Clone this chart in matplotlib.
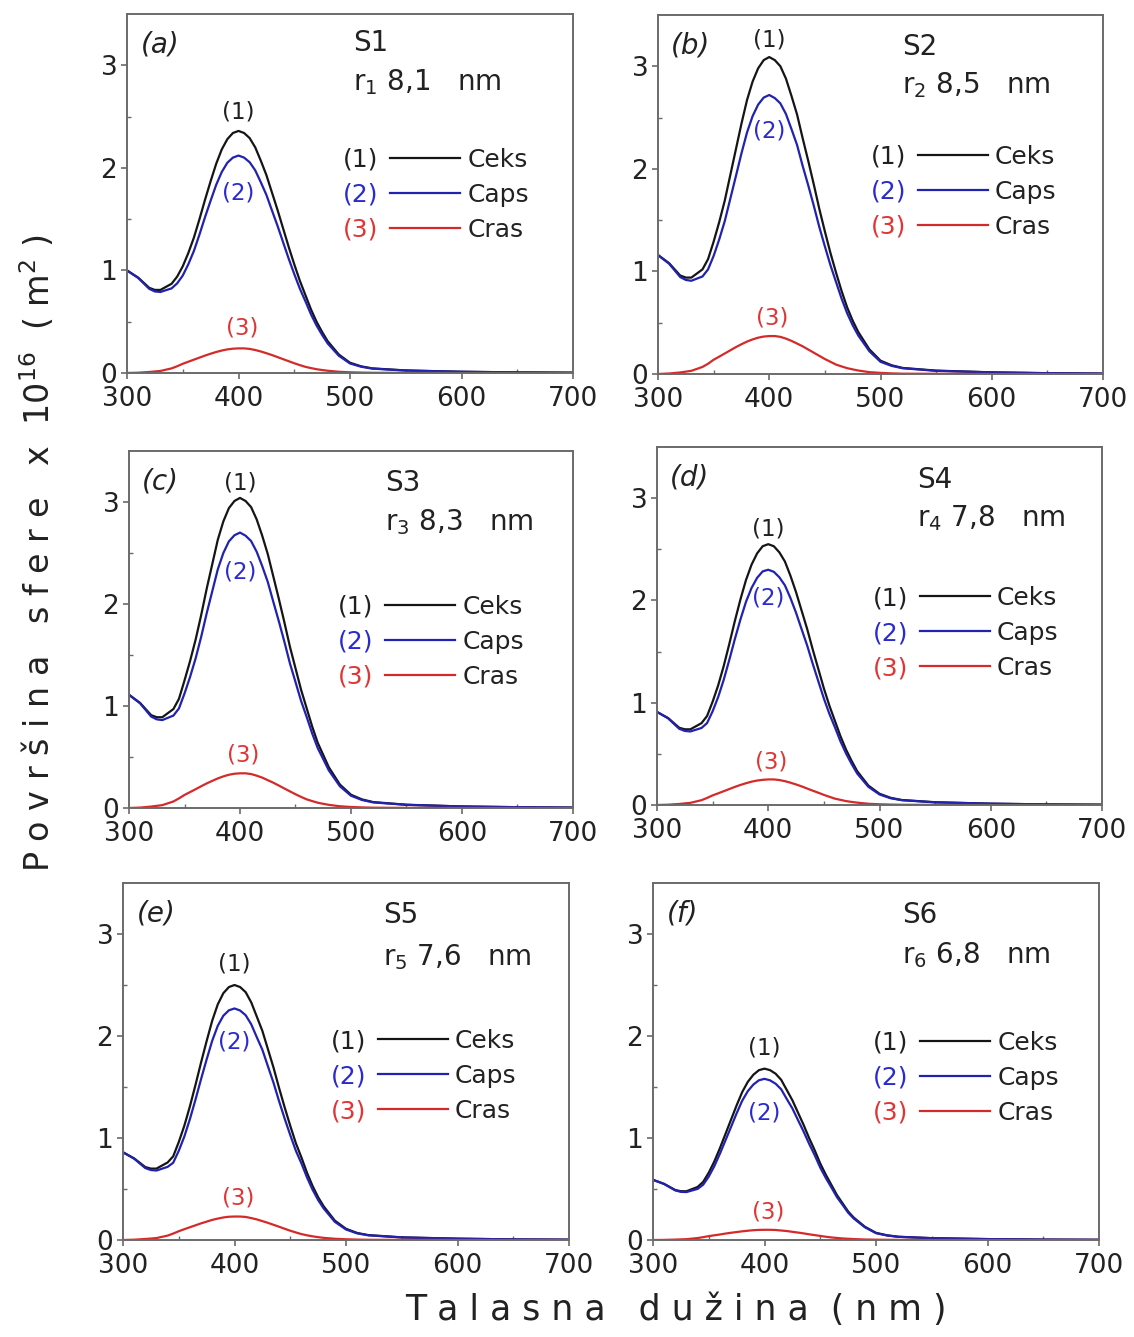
import matplotlib.pyplot as plt
import numpy as np

plt.rcParams['font.family'] = ['DejaVu Sans']
plt.rcParams['mathtext.fontset'] = 'dejavusans'

W, H = 1134, 1337

# wavelength grid (nm)
wl = [300, 310, 320, 325, 330,
      340, 345, 350, 355, 360, 365, 370, 375, 380, 385, 390, 395, 400, 405, 410, 415, 420, 425,
      430, 435, 440, 445, 450, 455, 460, 465, 470, 475, 480,
      490, 500, 510, 520, 550, 600, 650, 700]

# S1
ceks_s1 = [1.00, 0.93, 0.83, 0.81, 0.81,
           0.87, 0.94, 1.04, 1.17, 1.32, 1.50, 1.69, 1.87, 2.04, 2.18, 2.28, 2.34, 2.36, 2.34, 2.29, 2.20, 2.07, 1.93,
           1.76, 1.59, 1.41, 1.23, 1.06, 0.90, 0.76, 0.62, 0.50, 0.40, 0.31,
           0.18, 0.10, 0.065, 0.045, 0.025, 0.012, 0.006, 0.003]
caps_s1 = [1.00, 0.927, 0.82, 0.795, 0.79,
           0.825, 0.874, 0.95, 1.06, 1.19, 1.35, 1.52, 1.68, 1.835, 1.96, 2.05, 2.10, 2.12, 2.10, 2.055, 1.976, 1.86, 1.737,
           1.585, 1.435, 1.275, 1.115, 0.965, 0.823, 0.70, 0.572, 0.463, 0.371, 0.288,
           0.168, 0.093, 0.061, 0.043, 0.024, 0.012, 0.006, 0.003]
cras_s1 = [0.0, 0.003, 0.01, 0.015, 0.02,
           0.045, 0.066, 0.09, 0.11, 0.13, 0.15, 0.17, 0.188, 0.205, 0.219, 0.23, 0.237, 0.24, 0.24, 0.235, 0.224, 0.21, 0.193,
           0.175, 0.155, 0.135, 0.115, 0.095, 0.077, 0.06, 0.048, 0.037, 0.029, 0.022,
           0.012, 0.007, 0.004, 0.002, 0.001, 0.0, 0.0, 0.0]
# S2
ceks_s2 = [1.16, 1.08, 0.96, 0.94, 0.94,
           1.02, 1.12, 1.29, 1.48, 1.69, 1.94, 2.19, 2.44, 2.67, 2.85, 2.98, 3.06, 3.09, 3.06, 3.00, 2.88, 2.71, 2.53,
           2.30, 2.08, 1.85, 1.61, 1.39, 1.18, 0.99, 0.81, 0.65, 0.52, 0.41,
           0.24, 0.13, 0.085, 0.059, 0.033, 0.016, 0.008, 0.004]
caps_s2 = [1.16, 1.075, 0.945, 0.917, 0.909,
           0.951, 1.02, 1.151, 1.311, 1.49, 1.709, 1.928, 2.15, 2.354, 2.513, 2.626, 2.695, 2.72, 2.69, 2.638, 2.535, 2.387, 2.233,
           2.03, 1.841, 1.642, 1.433, 1.244, 1.061, 0.898, 0.736, 0.593, 0.475, 0.376,
           0.222, 0.119, 0.079, 0.056, 0.031, 0.016, 0.008, 0.004]
cras_s2 = [0.0, 0.005, 0.015, 0.023, 0.031,
           0.069, 0.10, 0.139, 0.169, 0.20, 0.231, 0.262, 0.29, 0.316, 0.337, 0.354, 0.365, 0.37, 0.37, 0.362, 0.345, 0.323, 0.297,
           0.27, 0.239, 0.208, 0.177, 0.146, 0.119, 0.092, 0.074, 0.057, 0.045, 0.034,
           0.018, 0.011, 0.006, 0.003, 0.002, 0.0, 0.0, 0.0]
# S3
ceks_s3 = [1.11, 1.03, 0.91, 0.89, 0.89,
           0.97, 1.07, 1.25, 1.44, 1.65, 1.89, 2.15, 2.39, 2.63, 2.81, 2.94, 3.01, 3.04, 3.01, 2.95, 2.83, 2.67, 2.49,
           2.27, 2.05, 1.82, 1.58, 1.37, 1.16, 0.98, 0.80, 0.64, 0.52, 0.40,
           0.23, 0.13, 0.084, 0.058, 0.032, 0.015, 0.008, 0.004]
caps_s3 = [1.11, 1.026, 0.896, 0.869, 0.862,
           0.906, 0.976, 1.122, 1.284, 1.466, 1.677, 1.909, 2.124, 2.34, 2.50, 2.614, 2.674, 2.70, 2.67, 2.617, 2.513, 2.372, 2.217,
           2.022, 1.83, 1.629, 1.417, 1.235, 1.051, 0.895, 0.732, 0.588, 0.479, 0.369,
           0.213, 0.12, 0.078, 0.055, 0.031, 0.015, 0.008, 0.004]
cras_s3 = [0.0, 0.004, 0.014, 0.021, 0.028,
           0.064, 0.094, 0.128, 0.156, 0.184, 0.213, 0.241, 0.266, 0.29, 0.31, 0.326, 0.336, 0.34, 0.34, 0.333, 0.317, 0.298, 0.273,
           0.248, 0.22, 0.191, 0.163, 0.135, 0.109, 0.085, 0.068, 0.052, 0.041, 0.031,
           0.017, 0.01, 0.006, 0.003, 0.001, 0.0, 0.0, 0.0]
# S4
ceks_s4 = [0.91, 0.85, 0.755, 0.74, 0.74,
           0.80, 0.87, 1.01, 1.17, 1.36, 1.575, 1.80, 2.01, 2.20, 2.35, 2.46, 2.53, 2.55, 2.53, 2.47, 2.38, 2.24, 2.08,
           1.90, 1.72, 1.52, 1.33, 1.14, 0.97, 0.82, 0.67, 0.54, 0.43, 0.33,
           0.19, 0.11, 0.07, 0.049, 0.027, 0.013, 0.006, 0.003]
caps_s4 = [0.91, 0.847, 0.745, 0.724, 0.719,
           0.753, 0.801, 0.916, 1.056, 1.225, 1.419, 1.623, 1.814, 1.987, 2.122, 2.221, 2.284, 2.30, 2.28, 2.226, 2.147, 2.022, 1.879,
           1.718, 1.559, 1.38, 1.21, 1.041, 0.89, 0.758, 0.62, 0.502, 0.40, 0.307,
           0.178, 0.103, 0.066, 0.047, 0.026, 0.013, 0.006, 0.003]
cras_s4 = [0.0, 0.003, 0.01, 0.016, 0.021,
           0.047, 0.069, 0.094, 0.114, 0.135, 0.156, 0.177, 0.196, 0.213, 0.228, 0.239, 0.246, 0.25, 0.25, 0.244, 0.233, 0.218, 0.201,
           0.182, 0.161, 0.14, 0.12, 0.099, 0.08, 0.062, 0.05, 0.038, 0.03, 0.023,
           0.012, 0.007, 0.004, 0.002, 0.001, 0.0, 0.0, 0.0]
# S5
ceks_s5 = [0.86, 0.80, 0.715, 0.70, 0.70,
           0.76, 0.82, 0.96, 1.12, 1.31, 1.52, 1.74, 1.95, 2.15, 2.31, 2.42, 2.48, 2.50, 2.48, 2.43, 2.33, 2.19, 2.05,
           1.87, 1.69, 1.49, 1.30, 1.12, 0.95, 0.81, 0.66, 0.53, 0.42, 0.33,
           0.19, 0.11, 0.069, 0.048, 0.026, 0.013, 0.006, 0.003]
caps_s5 = [0.86, 0.797, 0.705, 0.686, 0.681,
           0.717, 0.757, 0.874, 1.014, 1.185, 1.376, 1.577, 1.77, 1.953, 2.10, 2.199, 2.252, 2.27, 2.25, 2.204, 2.115, 1.988, 1.865,
           1.702, 1.541, 1.36, 1.19, 1.029, 0.876, 0.752, 0.614, 0.494, 0.392, 0.309,
           0.178, 0.103, 0.065, 0.046, 0.025, 0.013, 0.006, 0.003]
cras_s5 = [0.0, 0.003, 0.01, 0.014, 0.019,
           0.043, 0.063, 0.086, 0.106, 0.125, 0.144, 0.163, 0.18, 0.197, 0.21, 0.221, 0.228, 0.23, 0.23, 0.226, 0.215, 0.202, 0.185,
           0.168, 0.149, 0.13, 0.11, 0.091, 0.074, 0.058, 0.046, 0.036, 0.028, 0.021,
           0.012, 0.007, 0.004, 0.002, 0.001, 0.0, 0.0, 0.0]
# S6
ceks_s6 = [0.59, 0.55, 0.49, 0.478, 0.478,
           0.52, 0.57, 0.66, 0.77, 0.90, 1.04, 1.18, 1.32, 1.45, 1.55, 1.62, 1.665, 1.68, 1.665, 1.63, 1.57, 1.47, 1.37,
           1.25, 1.13, 1.00, 0.88, 0.75, 0.64, 0.54, 0.44, 0.36, 0.28, 0.22,
           0.13, 0.07, 0.046, 0.032, 0.018, 0.009, 0.004, 0.002]
caps_s6 = [0.59, 0.549, 0.486, 0.472, 0.47,
           0.501, 0.542, 0.622, 0.724, 0.846, 0.977, 1.109, 1.242, 1.365, 1.459, 1.524, 1.566, 1.58, 1.565, 1.532, 1.477, 1.382, 1.29,
           1.177, 1.065, 0.944, 0.832, 0.71, 0.608, 0.515, 0.42, 0.345, 0.268, 0.211,
           0.125, 0.067, 0.044, 0.031, 0.018, 0.009, 0.004, 0.002]
cras_s6 = [0.0, 0.001, 0.004, 0.006, 0.008,
           0.019, 0.028, 0.038, 0.046, 0.054, 0.063, 0.071, 0.078, 0.085, 0.091, 0.096, 0.099, 0.10, 0.10, 0.098, 0.093, 0.088, 0.08,
           0.073, 0.065, 0.056, 0.048, 0.04, 0.032, 0.025, 0.02, 0.015, 0.012, 0.009,
           0.005, 0.003, 0.002, 0.001, 0.0, 0.0, 0.0, 0.0]

ceks_all = [ceks_s1, ceks_s2, ceks_s3, ceks_s4, ceks_s5, ceks_s6]
caps_all = [caps_s1, caps_s2, caps_s3, caps_s4, caps_s5, caps_s6]
cras_all = [cras_s1, cras_s2, cras_s3, cras_s4, cras_s5, cras_s6]

panel_tags = ['(a)', '(b)', '(c)', '(d)', '(e)', '(f)']
sample_names = ['S1', 'S2', 'S3', 'S4', 'S5', 'S6']
radii = ['8,1', '8,5', '8,3', '7,8', '7,6', '6,8']
series_names = ['Ceks', 'Caps', 'Cras']

# y of the (1) (2) (3) curve labels
lab1_y = [2.54, 3.26, 3.19, 2.70, 2.71, 1.88]
lab2_y = [1.75, 2.37, 2.31, 2.02, 1.94, 1.25]
lab3_y = [0.44, 0.55, 0.52, 0.42, 0.41, 0.27]

# panel boxes in pixels: left, top, right, bottom
boxes = [(127, 14, 573, 373), (658, 15, 1103, 374),
         (129, 451, 573, 808), (657, 447, 1102, 805),
         (123, 883, 569, 1240), (653, 883, 1099, 1240)]
# text anchors in axes fractions
s_x = [0.507, 0.548, 0.577, 0.584, 0.583, 0.558]
s_y = [0.919, 0.911, 0.910, 0.908, 0.910, 0.910]
r_y = [0.810, 0.805, 0.801, 0.802, 0.793, 0.798]
leg_x = [0.590, 0.584, 0.577, 0.591, 0.572, 0.599]
leg_y = [0.496, 0.507, 0.465, 0.480, 0.459, 0.454]

colors = ['#151515', '#2222b0', '#d42a2a']
txt_colors = ['#202020', '#2a2ad0', '#e03535']
spine_col = '#6a6a6a'

fig = plt.figure(figsize=(W / 100, H / 100), dpi=100)

axes = []
legends = []
for i in range(6):
    l, t, r, b = boxes[i]
    ax = fig.add_axes([l / W, 1 - b / H, (r - l) / W, (b - t) / H])
    h1, = ax.plot(wl, ceks_all[i], color=colors[0], lw=1.6)
    h2, = ax.plot(wl, caps_all[i], color=colors[1], lw=1.6)
    h3, = ax.plot(wl, cras_all[i], color=colors[2], lw=1.6)

    ax.set_xlim(300, 700)
    ax.set_ylim(0, 3.5)
    ax.set_xticks([300, 400, 500, 600, 700])
    ax.set_xticks([350, 450, 550, 650], minor=True)
    ax.set_yticks([0, 1, 2, 3])
    ax.set_yticks([0.5, 1.5, 2.5], minor=True)
    ax.tick_params(which='major', direction='out', length=4, width=1.2,
                   color=spine_col, labelsize=19, labelcolor='#222222')
    ax.tick_params(axis='x', which='major', pad=5.5)
    ax.tick_params(axis='y', which='major', pad=3)
    ax.tick_params(which='minor', direction='in', length=3, width=1.0, color=spine_col)
    for sp in ax.spines.values():
        sp.set_color(spine_col)
        sp.set_linewidth(1.4)

    ax.text(0.03, 0.915, panel_tags[i], transform=ax.transAxes, fontsize=20,
            style='italic', va='center', ha='left', color='#222222')
    ax.text(s_x[i], s_y[i], sample_names[i], transform=ax.transAxes, fontsize=20,
            va='center', ha='left', color='#222222')
    ax.text(s_x[i], r_y[i], 'r$_{\\mathregular{%d}}$ %s   nm' % (i + 1, radii[i]),
            transform=ax.transAxes, fontsize=20, va='center', ha='left', color='#222222')

    ax.text(400, lab1_y[i], '(1)', fontsize=16.5, ha='center', va='center', color=txt_colors[0])
    ax.text(400, lab2_y[i], '(2)', fontsize=16.5, ha='center', va='center', color=txt_colors[1])
    ax.text(403, lab3_y[i], '(3)', fontsize=16.5, ha='center', va='center', color=txt_colors[2])

    leg = ax.legend([h1, h2, h3], series_names, loc='center left',
                    bbox_to_anchor=(leg_x[i], leg_y[i]), frameon=False, fontsize=18,
                    handlelength=2.8, handletextpad=0.28, labelspacing=0.44,
                    borderpad=0, borderaxespad=0)
    for txt in leg.get_texts():
        txt.set_color('#222222')
    axes.append(ax)
    legends.append(leg)

fig.text(0.033, 1 - 872 / H,
         'P o v r š i n a   s f e r e   x  10$^{\\mathregular{16}}$  ( m$^{\\mathregular{2}}$ )',
         rotation=90, fontsize=24, ha='center', va='bottom', color='#222222')
fig.text(405 / W, 1 - 1310 / H, 'T a l a s n a   d u ž i n a  ( n m )',
         fontsize=25, ha='left', va='center', color='#222222')

# numbered keys in front of the legend rows
fig.canvas.draw()
for ax, leg in zip(axes, legends):
    inv = ax.transAxes.inverted()
    x0 = leg.get_window_extent().x0
    for k, txt in enumerate(leg.get_texts()):
        bb = txt.get_window_extent()
        xa, ya = inv.transform((x0 - 12, (bb.y0 + bb.y1) / 2))
        ax.text(xa, ya, '(%d)' % (k + 1), transform=ax.transAxes, fontsize=18,
                ha='right', va='center', color=txt_colors[k])

fig.savefig('out.png', dpi=100)
